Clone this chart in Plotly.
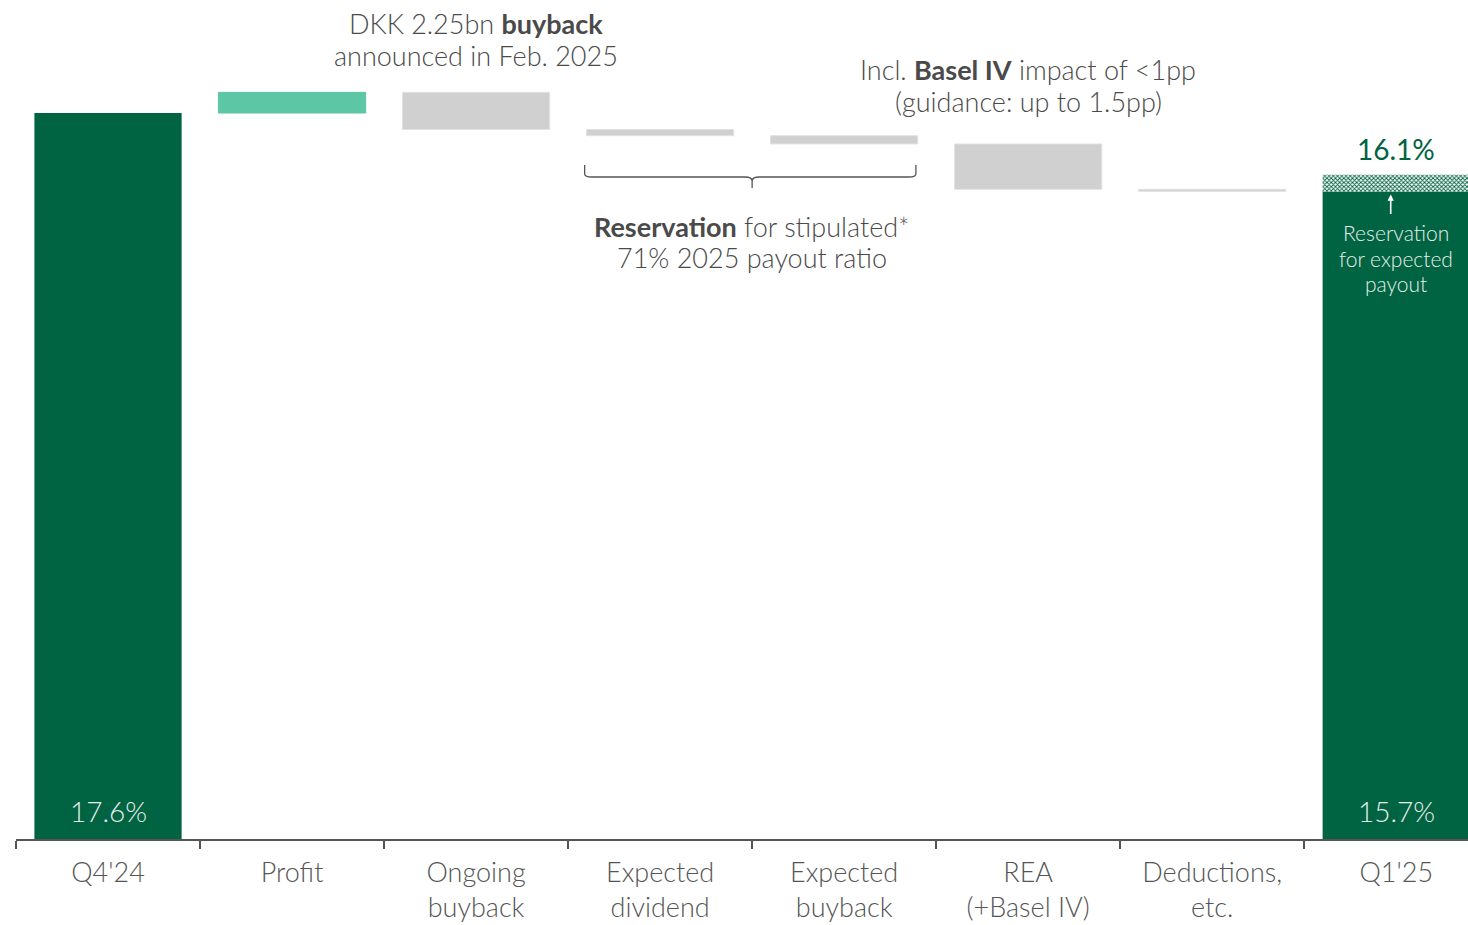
import plotly.graph_objects as go

# ---------------- data ----------------
categories = ["Q4'24", "Profit", "Ongoing<br>buyback", "Expected<br>dividend",
              "Expected<br>buyback", "REA<br>(+Basel IV)", "Deductions,<br>etc.", "Q1'25"]
start_value = 17.6
changes = [0.5, -0.9, -0.15, -0.2, -1.1, -0.05]
end_value = 15.7
reservation_top = 16.1

start_label = "17.6%"
end_label = "15.7%"
reservation_label = "16.1%"

# ---------------- styles ----------------
DARK_GREEN = "#006341"
LIGHT_GREEN = "#5cc6a5"
GREY = "#d0d0d0"
GREY_EDGE = "#e2e2e2"
TEXT = "#4a4a4a"
FONT = "Lato"
PLOT_H = 839  # pixel height of the plotting area


def paper_y(px):
    return 1 - px / PLOT_H


fig = go.Figure()

# start / end bars
fig.add_trace(go.Bar(
    x=[categories[0], categories[-1]], y=[start_value, end_value], base=[0, 0],
    marker=dict(color=DARK_GREEN, line=dict(width=0)), width=0.8, showlegend=False,
    hoverinfo="skip"))

# reservation (hatched) segment
fig.add_trace(go.Bar(
    x=[categories[-1]], y=[reservation_top - end_value], base=[end_value],
    marker=dict(color="white", line=dict(width=0),
                pattern=dict(shape="x", fgcolor=DARK_GREEN, bgcolor="white",
                             size=3, solidity=0.5, fillmode="replace")),
    width=0.8, showlegend=False, hoverinfo="skip"))

# floating change bars
level = start_value
xs, ys, bases, colors = [], [], [], []
for cat, ch in zip(categories[1:-1], changes):
    xs.append(cat)
    ys.append(abs(ch))
    bases.append(level if ch >= 0 else level + ch)
    colors.append(LIGHT_GREEN if ch >= 0 else GREY)
    level += ch
fig.add_trace(go.Bar(
    x=xs, y=ys, base=bases,
    marker=dict(color=colors,
                line=dict(color=[LIGHT_GREEN if c == LIGHT_GREEN else GREY_EDGE for c in colors],
                          width=1)),
    width=0.8, showlegend=False, hoverinfo="skip"))

# ---------------- annotations ----------------
ann = []
ann.append(dict(x=categories[0], y=0, text=start_label, showarrow=False,
                yanchor="bottom", yshift=9, font=dict(size=28, color="#e6efe9")))
ann.append(dict(x=categories[-1], y=0, text=end_label, showarrow=False,
                yanchor="bottom", yshift=9, font=dict(size=28, color="#e6efe9")))
ann.append(dict(x=categories[-1], y=reservation_top, text=reservation_label, showarrow=False,
                yanchor="bottom", yshift=7, font=dict(size=28, color=DARK_GREEN, weight=400)))
for i, (line, px) in enumerate(zip(["Reservation", "for expected", "payout"], [232, 258, 284])):
    ann.append(dict(x=7, y=paper_y(px), yref="paper", text=line, showarrow=False,
                    yanchor="middle", font=dict(size=21, color="#e6efe9")))
# arrow inside final bar
ann.append(dict(x=6.97, y=end_value, yshift=-3, ax=0, ay=21, text="", showarrow=True,
                arrowhead=2, arrowsize=0.8, arrowwidth=1.6, arrowcolor="white",
                xref="x", yref="y"))

text_blocks = [
    (2, ["DKK 2.25bn <b>buyback</b>", "announced in Feb. 2025"], [24, 55]),
    (5, ["Incl. <b>Basel IV</b> impact of <1pp", "(guidance: up to 1.5pp)"], [69, 101]),
    (3.5, ["<b>Reservation</b> for stipulated*", "71% 2025 payout ratio"], [226, 257]),
]
for xc_, lines, pys in text_blocks:
    for line, px in zip(lines, pys):
        ann.append(dict(x=xc_, y=paper_y(px), xref="x", yref="paper", yanchor="middle",
                        text=line, showarrow=False, font=dict(size=27, color=TEXT)))

# brace under expected dividend / expected buyback
x0, x1, xc = 3 - 0.4, 4 + 0.4, 3.5
py = lambda p: (PLOT_H - p) / 41.25
brace = (f"M {x0-0.01},{py(165)} L {x0-0.01},{py(174)} Q {x0-0.01},{py(177)} {x0+0.03},{py(177)} "
         f"L {xc-0.04},{py(177)} Q {xc},{py(177)} {xc},{py(181)} "
         f"Q {xc},{py(177)} {xc+0.04},{py(177)} "
         f"L {x1-0.05},{py(177)} Q {x1-0.01},{py(177)} {x1-0.01},{py(174)} L {x1-0.01},{py(165)} "
         f"M {xc},{py(180)} L {xc},{py(188)}")
shapes = [dict(type="path", xref="x", yref="y", path=brace,
               line=dict(color="#555555", width=1.3))]

fig.update_layout(
    width=1468, height=925,
    margin=dict(l=16, r=0, t=0, b=86),
    plot_bgcolor="white", paper_bgcolor="white",
    font=dict(family=FONT, size=28, color=TEXT, weight=300),
    barmode="overlay", bargap=0.2,
    annotations=ann, shapes=shapes,
    xaxis=dict(type="category", categoryorder="array", categoryarray=categories,
               range=[-0.5, 7.39], showline=True, linecolor="#555555", linewidth=1.5,
               ticks="outside", tickson="boundaries", ticklen=8, tickcolor="#555555",
               tickwidth=1.5, showgrid=False, tickfont=dict(size=27, color="#555555"),
               ticklabelstandoff=9, automargin=False, fixedrange=True),
    yaxis=dict(range=[0, PLOT_H / 41.25], visible=False, showgrid=False, zeroline=False,
               automargin=False, fixedrange=True),
)

fig.write_html("out.html")
